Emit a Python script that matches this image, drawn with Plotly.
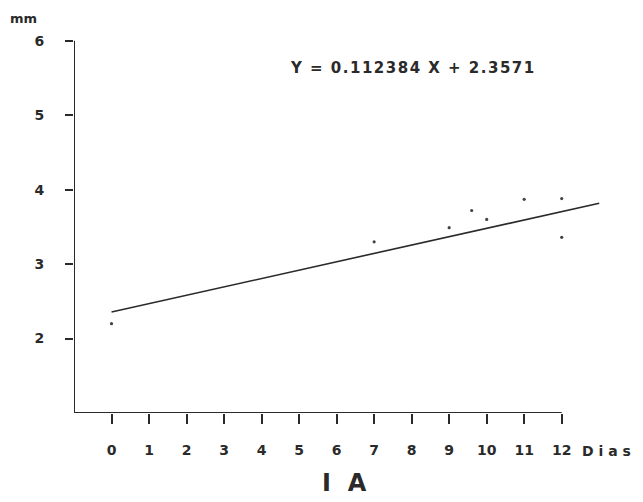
import plotly.graph_objects as go

# data
days = [0, 7, 9, 9.6, 10, 11, 12, 12]
mm = [2.2, 3.3, 3.49, 3.72, 3.6, 3.87, 3.88, 3.36]
slope = 0.112384
intercept = 2.3571
line_x = [0, 13]
line_y = [intercept + slope * v for v in line_x]
x_ticks = list(range(0, 13))
y_ticks = [2, 3, 4, 5, 6]
equation = "Y = 0.112384 X + 2.3571"

ink = "#2a2a2a"
font = "DejaVu Sans"

fig = go.Figure()
fig.add_trace(go.Scatter(x=line_x, y=line_y, mode="lines",
                         line=dict(color=ink, width=1.6), hoverinfo="skip"))
fig.add_trace(go.Scatter(x=days, y=mm, mode="markers",
                         marker=dict(color="#444", size=3.2)))

# axis lines (y from 1 to 6, x from -1 to 12)
fig.add_shape(type="line", x0=-1, x1=-1, y0=1, y1=6, xref="x", yref="y",
              line=dict(color=ink, width=2))
fig.add_shape(type="line", x0=-1, x1=12, y0=1, y1=1, xref="x", yref="y",
              line=dict(color=ink, width=2))
fig.add_shape(type="line", x0=-1.2, x1=-1, y0=6, y1=6, xref="x", yref="y",
              line=dict(color=ink, width=1.5))

tick_font = dict(size=14, family=font, color=ink, weight="bold")
spaced_eq = "\u200a".join(equation)

fig.update_layout(
    width=643, height=502,
    margin=dict(l=74, r=25, t=11, b=89),
    plot_bgcolor="white", paper_bgcolor="white",
    showlegend=False,
    font=dict(family=font, color=ink),
    xaxis=dict(range=[-1, 13.5], showgrid=False, zeroline=False, showline=False,
               tickvals=x_ticks, ticktext=[str(v) for v in x_ticks],
               ticks="outside", ticklen=10, tickwidth=2, tickcolor=ink,
               ticklabelstandoff=14, tickfont=tick_font),
    yaxis=dict(range=[1, 6.4], showgrid=False, zeroline=False, showline=False,
               tickvals=y_ticks, ticktext=[str(v) for v in y_ticks],
               ticks="outside", ticklen=8, tickwidth=1.5, tickcolor=ink,
               ticklabelstandoff=18, tickfont=tick_font),
    annotations=[
        dict(text="mm", x=0, y=1, xref="paper", yref="paper", showarrow=False,
             xanchor="left", yanchor="top", xshift=-66, yshift=2,
             font=dict(size=13, family=font, color=ink, weight="bold")),
        dict(text=spaced_eq, xref="x", yref="y", x=4.7, y=5.64,
             xanchor="left", yanchor="middle", showarrow=False,
             font=dict(size=15, family=font, color=ink, weight="bold")),
        dict(text="D i a s", xref="x", yref="paper", x=13.2, y=0, yshift=-38,
             xanchor="center", yanchor="middle", showarrow=False,
             font=dict(size=14, family=font, color=ink, weight="bold")),
        dict(text="I  A", xref="x", yref="paper", x=6.2, y=0, yshift=-70,
             xanchor="center", yanchor="middle", showarrow=False,
             font=dict(size=24, family=font, color=ink, weight="bold")),
    ],
)

fig.write_html("out.html")
